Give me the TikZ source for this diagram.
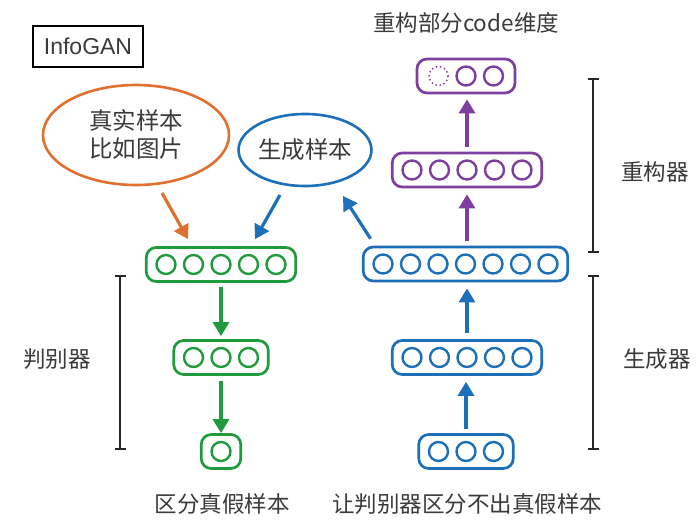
\documentclass[tikz,border=0pt]{standalone}
\usepackage{fontspec}
\setmainfont{Noto Sans CJK SC}
\newfontfamily\latinsans{Liberation Sans}
\usetikzlibrary{arrows.meta,shapes.geometric}
\definecolor{cOrange}{HTML}{E0702F}
\definecolor{cGreen}{HTML}{1F9B3E}
\definecolor{cBlue}{HTML}{1C6FB9}
\definecolor{cPurple}{HTML}{7E3F9E}
\definecolor{cText}{HTML}{3A3A3A}
\newcommand{\nnlayer}[5]{%
  \node[layerbox, draw=#5, minimum width={(27.5*#4+12)*1pt}] (#1) at (#2,#3) {};
  \foreach \i in {1,...,#4} {\node[unit, draw=#5] (#1-\i) at ({#2+(\i-(#4+1)/2)*27.5},#3) {};}
}
\begin{document}
\begin{tikzpicture}[x=1pt,y=-1pt,
  layerbox/.style={rectangle, rounded corners=10pt, line width=2.7pt, minimum height=34pt, inner sep=0pt},
  unit/.style={circle, line width=2.4pt, minimum size=19pt, inner sep=0pt},
  arr/.style={line width=3.2pt, -{Triangle[width=16pt,length=14pt]}},
  lbl/.style={text=cText, font=\fontsize{22.5}{26}\selectfont, inner sep=0pt},
  bracket/.style={line width=2pt, black!85, {Bar[width=11pt]}-{Bar[width=11pt]}},
  bubble/.style={ellipse, line width=2.6pt, inner sep=0pt, text=cText, align=center, font=\fontsize{23.5}{28}\selectfont}]
\useasboundingbox (0,0) rectangle (700,529);

% title box
\node[draw, line width=2.2pt, minimum width=110pt, minimum height=41pt, inner sep=0pt, font=\latinsans\fontsize{23}{26}\selectfont, text=cText] (title) at (88,46.5) {InfoGAN};

% ellipses
\node[bubble, draw=cOrange, minimum width=186pt, minimum height=100pt] (real) at (136,135) {真实样本\\比如图片};
\node[bubble, draw=cBlue, minimum width=120pt, minimum height=72pt] (fake) at (305,150) {生成样本};

% discriminator
\nnlayer{g1}{221}{264.5}{5}{cGreen}
\nnlayer{g2}{221}{357.5}{3}{cGreen}
\nnlayer{g3}{221}{451.5}{1}{cGreen}

% generator
\nnlayer{b1}{465.5}{264}{7}{cBlue}
\nnlayer{b2}{467}{357.5}{5}{cBlue}
\nnlayer{b3}{466}{451.5}{3}{cBlue}

% reconstructor
\nnlayer{p2}{467}{170}{5}{cPurple}
\node[layerbox, draw=cPurple, minimum width=98pt] (p1) at (466,76) {};
\node[unit, draw=cPurple, line width=2pt, line cap=round, dash pattern=on 0pt off 4.2pt] (p1-1) at (438.5,76) {};
\node[unit, draw=cPurple] (p1-2) at (466,76) {};
\node[unit, draw=cPurple] (p1-3) at (493.5,76) {};

% arrows
\draw[arr, cGreen, shorten <=4pt, shorten >=3pt] (g1.south) -- (g2.north);
\draw[arr, cGreen, shorten <=5pt, shorten >=0pt] (g2.south) -- (g3.north);
\draw[arr, cBlue, shorten <=4pt, shorten >=6pt] (b3.north) -- (b3.north |- b2.south);
\draw[arr, cBlue, shorten <=6pt, shorten >=6pt] (b2.north) -- (b2.north |- b1.south);
\draw[arr, cPurple, shorten <=5pt, shorten >=6pt] (b1.north -| p2.south) -- (p2.south);
\draw[arr, cPurple, shorten <=5pt, shorten >=5pt] (p2.north) -- (p2.north |- p1.south);
\draw[arr, cOrange] ([shift={(26,58)}]real.center) -- ([shift={(-33,-7)}]g1.north);
\draw[arr, cBlue] ([shift={(-25,45)}]fake.center) -- ([shift={(34,-7)}]g1.north);
\draw[arr, cBlue] ([shift={(-95,-7)}]b1.north) -- ([shift={(38,46)}]fake.center);

% brackets
\draw[bracket] (120,275) -- (120,450);
\draw[bracket] (593,275) -- (593,450);
\draw[bracket] (593,78) -- (593,253);

% labels
\node[lbl] (ldisc) at (57,359) {判别器};
\node[lbl] (lgen) at (657,359) {生成器};
\node[lbl] (lrec) at (655,172) {重构器};
\node[lbl] (lout1) at (222,504) {区分真假样本};
\node[lbl] (lout2) at (467,504) {让判别器区分不出真假样本};
\node[lbl] (lcode) at (466,23) {重构部分code维度};
\end{tikzpicture}
\end{document}
